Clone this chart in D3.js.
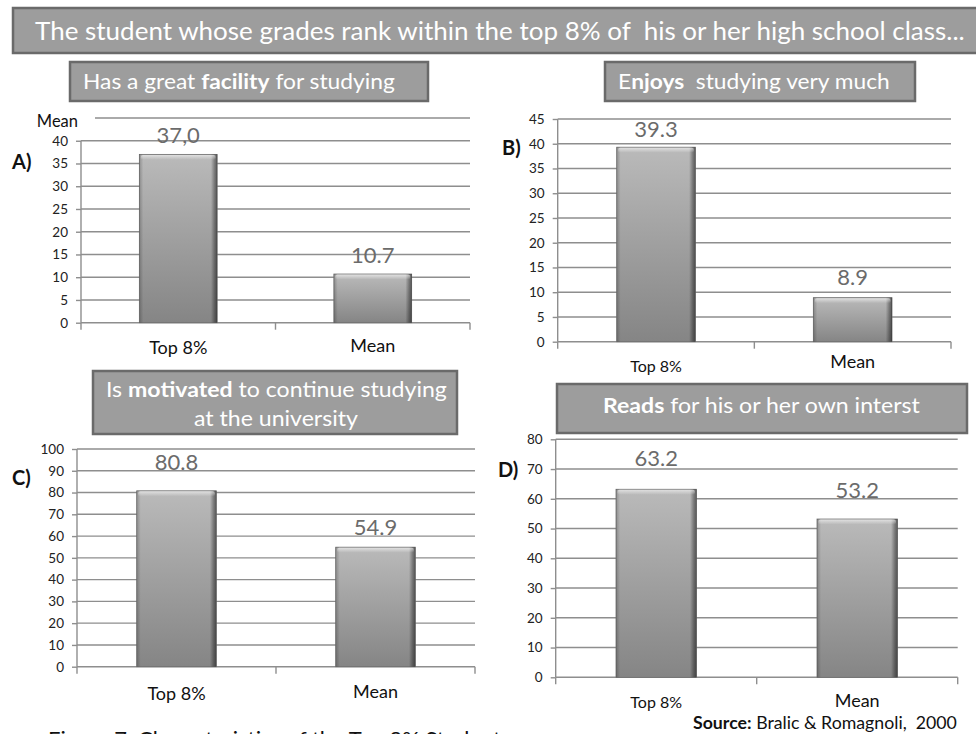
<!DOCTYPE html>
<html>
<head>
<meta charset="utf-8">
<script src="https://cdn.jsdelivr.net/npm/d3@7"></script>
<style>
  body { margin: 0; background: #fff; }
  svg { display: block; }
  text { font-family: Lato, "Open Sans", "Noto Sans", sans-serif; white-space: pre; }
</style>
</head>
<body>
<svg id="fig" width="976" height="734"></svg>
<script>
// ---- data ----
const categories = ["Top 8%", "Mean"];
const facilityValues = [37.0, 10.7];
const enjoysValues = [39.3, 8.9];
const motivatedValues = [80.8, 54.9];
const readsValues = [63.2, 53.2];
const facilityValueText = ["37,0", "10.7"];

const ticksA = [0, 5, 10, 15, 20, 25, 30, 35, 40];
const ticksB = [0, 5, 10, 15, 20, 25, 30, 35, 40, 45];
const ticksC = [0, 10, 20, 30, 40, 50, 60, 70, 80, 90, 100];
const ticksD = [0, 10, 20, 30, 40, 50, 60, 70, 80];

const headline = [["The student whose grades rank within the top 8% of  his or her high school class...", false]];
const titleA = [["Has a great ", false], ["facility", true], [" for studying", false]];
const titleB = [["E", false], ["njoys", true], ["  studying very much", false]];
const titleC1 = [["Is ", false], ["motivated", true], [" to continue studying", false]];
const titleC2 = [["at the university", false]];
const titleD = [["Reads", true], [" for his or her own interst", false]];
const sourceText = [["Source:", true], [" Bralic & Romagnoli,  2000", false]];
const captionText = "Figure 7: Characteristics of the Top 8% Students";

// ---- drawing ----
const svg = d3.select("#fig");
const gridColor = "#8e8e8e";
const boxFill = "#9d9d9d";
const boxStroke = "#6a6a6a";

const defs = svg.append("defs");
const gv = defs.append("linearGradient").attr("id", "barV").attr("x1", 0).attr("y1", 0).attr("x2", 0).attr("y2", 1);
gv.append("stop").attr("offset", "0%").attr("stop-color", "#bababa");
gv.append("stop").attr("offset", "100%").attr("stop-color", "#858585");
const gh = defs.append("linearGradient").attr("id", "barH").attr("x1", 0).attr("y1", 0).attr("x2", 1).attr("y2", 0);
gh.append("stop").attr("offset", "0%").attr("stop-color", "#000").attr("stop-opacity", 0.22);
gh.append("stop").attr("offset", "5%").attr("stop-color", "#000").attr("stop-opacity", 0);
gh.append("stop").attr("offset", "92%").attr("stop-color", "#000").attr("stop-opacity", 0);
gh.append("stop").attr("offset", "97%").attr("stop-color", "#000").attr("stop-opacity", 0.35);
gh.append("stop").attr("offset", "100%").attr("stop-color", "#000").attr("stop-opacity", 0.5);
const gt = defs.append("linearGradient").attr("id", "barTop").attr("x1", 0).attr("y1", 0).attr("x2", 0).attr("y2", 1);
gt.append("stop").attr("offset", "0%").attr("stop-color", "#fff").attr("stop-opacity", 0.55);
gt.append("stop").attr("offset", "100%").attr("stop-color", "#fff").attr("stop-opacity", 0);

// text made of regular/bold runs, stretched to span x0..x1
function fitText(parts, x0, x1, baseline, size, fill) {
  const t = svg.append("text").attr("font-size", size).attr("fill", fill).attr("x", 0).attr("y", 0);
  parts.forEach(([s, b]) => t.append("tspan").attr("font-weight", b ? "bold" : "normal").text(s));
  const w = t.node().getComputedTextLength();
  t.attr("transform", `translate(${x0},${baseline}) scale(${(x1 - x0) / w},1)`);
  return t;
}

function box(x0, y0, x1, y1) {
  svg.append("rect").attr("x", x0).attr("y", y0).attr("width", x1 - x0).attr("height", y1 - y0)
    .attr("fill", boxFill).attr("stroke", boxStroke).attr("stroke-width", 2.5);
}

// headline banner
box(13, 8, 980, 53);
fitText(headline, 35, 965, 40, 25, "#fff");

// panel titles
box(70, 62, 428, 101);
fitText(titleA, 83, 395, 89, 21, "#fff");
box(605, 62, 915, 101);
fitText(titleB, 618, 890, 89, 21, "#fff");
box(93, 371, 457, 434);
fitText(titleC1, 106, 447, 397, 21, "#fff");
fitText(titleC2, 194, 358, 426, 21, "#fff");
box(557, 384, 967, 433);
fitText(titleD, 603, 920, 413, 21, "#fff");

const panels = [
  { tag: "A)", tagX: 12, tagY: 169, values: facilityValues, text: facilityValueText, ticks: ticksA, yMax: 45,
    x0: 81, x1: 470, y0: 322.7, yTop: 118, labelGap: [11, 11], catDy: [31, 29], catSize: [18, 18] },
  { tag: "B)", tagX: 502, tagY: 155, values: enjoysValues, text: null, ticks: ticksB, yMax: 45,
    x0: 557.7, x1: 951, y0: 341.7, yTop: 119, labelGap: [10.5, 12.5], catDy: [30, 26], catSize: [16, 18] },
  { tag: "C)", tagX: 12, tagY: 485, values: motivatedValues, text: null, ticks: ticksC, yMax: 100,
    x0: 77, x1: 475, y0: 666.7, yTop: 449, labelGap: [21, 12], catDy: [33, 31], catSize: [18, 18] },
  { tag: "D)", tagX: 498, tagY: 477, values: readsValues, text: null, ticks: ticksD, yMax: 80,
    x0: 555.7, x1: 957.7, y0: 677.3, yTop: 439.3, labelGap: [23, 21], catDy: [31, 30], catSize: [16, 18] }
];

function drawPanel(p) {
  const y = d3.scaleLinear().domain([0, p.yMax]).range([p.y0, p.yTop]);
  const x = d3.scaleBand().domain(categories).range([p.x0, p.x1]).paddingInner(0.6).paddingOuter(0.3);
  const g = svg.append("g");
  const topTick = d3.max(p.ticks);

  // horizontal gridlines
  g.selectAll("line.grid").data(p.ticks.filter(t => t > 0)).join("line")
    .attr("x1", p.x0).attr("x2", p.x1).attr("y1", d => y(d)).attr("y2", d => y(d))
    .attr("stroke", gridColor).attr("stroke-width", 1.4);

  // y axis
  const ax = g.append("g").attr("transform", `translate(${p.x0},0)`)
    .call(d3.axisLeft(y).tickValues(p.ticks).tickSize(5).tickPadding(8).tickFormat(d3.format("d")));
  ax.select(".domain").remove();
  ax.selectAll(".tick line").attr("stroke", gridColor).attr("stroke-width", 1.4);
  ax.selectAll(".tick text").attr("font-size", 13.5).attr("fill", "#222")
    .attr("font-family", "Lato, 'Open Sans', sans-serif");
  g.append("line").attr("x1", p.x0).attr("x2", p.x0).attr("y1", y(topTick)).attr("y2", y(0))
    .attr("stroke", gridColor).attr("stroke-width", 1.4);

  // x axis with category boundary ticks
  g.append("line").attr("x1", p.x0).attr("x2", p.x1).attr("y1", y(0)).attr("y2", y(0))
    .attr("stroke", gridColor).attr("stroke-width", 1.4);
  const bounds = [p.x0, (p.x0 + p.x1) / 2, p.x1];
  g.selectAll("line.xt").data(bounds).join("line")
    .attr("x1", d => d).attr("x2", d => d).attr("y1", y(0)).attr("y2", y(0) + 7)
    .attr("stroke", gridColor).attr("stroke-width", 1.4);

  // bars
  const bars = g.selectAll("g.bar").data(p.values).join("g");
  bars.append("rect")
    .attr("x", (d, i) => x(categories[i])).attr("width", x.bandwidth())
    .attr("y", d => y(d)).attr("height", d => y(0) - y(d))
    .attr("fill", "url(#barV)").attr("stroke", "#6e6e6e").attr("stroke-width", 0.8);
  bars.append("rect")
    .attr("x", (d, i) => x(categories[i])).attr("width", x.bandwidth())
    .attr("y", d => y(d)).attr("height", d => y(0) - y(d))
    .attr("fill", "url(#barH)");
  bars.append("rect")
    .attr("x", (d, i) => x(categories[i]) + 1.5).attr("width", x.bandwidth() - 3)
    .attr("y", d => y(d) + 0.5).attr("height", 5).attr("rx", 2)
    .attr("fill", "url(#barTop)");

  // value labels
  g.selectAll("text.val").data(p.values).join("text")
    .attr("x", (d, i) => x(categories[i]) + x.bandwidth() / 2)
    .attr("y", (d, i) => y(d) - p.labelGap[i])
    .attr("text-anchor", "middle").attr("font-size", 22).attr("fill", "#6b6b6b")
    .text((d, i) => p.text ? p.text[i] : d3.format(".1f")(d));

  // category labels
  g.selectAll("text.cat").data(categories).join("text")
    .attr("x", d => x(d) + x.bandwidth() / 2)
    .attr("y", (d, i) => y(0) + p.catDy[i])
    .attr("text-anchor", "middle").attr("font-size", (d, i) => p.catSize[i]).attr("fill", "#111")
    .text(d => d);

  // panel letter
  g.append("text").attr("x", p.tagX).attr("y", p.tagY).attr("font-size", 20).attr("font-weight", "bold")
    .attr("fill", "#111").text(p.tag);

  return { y };
}

const pa = drawPanel(panels[0]);
// panel A: the upper gridline carries the unit label instead of a number
svg.append("line").attr("x1", 95).attr("x2", 470).attr("y1", pa.y(45)).attr("y2", pa.y(45))
  .attr("stroke", gridColor).attr("stroke-width", 1.4);
svg.append("text").attr("x", 78).attr("y", 127).attr("text-anchor", "end")
  .attr("font-size", 16.5).attr("fill", "#111").text("Mean");

panels.slice(1).forEach(drawPanel);

// source note and caption
fitText(sourceText, 693, 957, 729, 17, "#111");
svg.append("text").attr("x", 48).attr("y", 747)
  .attr("font-family", "'Liberation Serif', 'DejaVu Serif', serif")
  .attr("font-size", 22).attr("fill", "#111").text(captionText);
</script>
</body>
</html>
